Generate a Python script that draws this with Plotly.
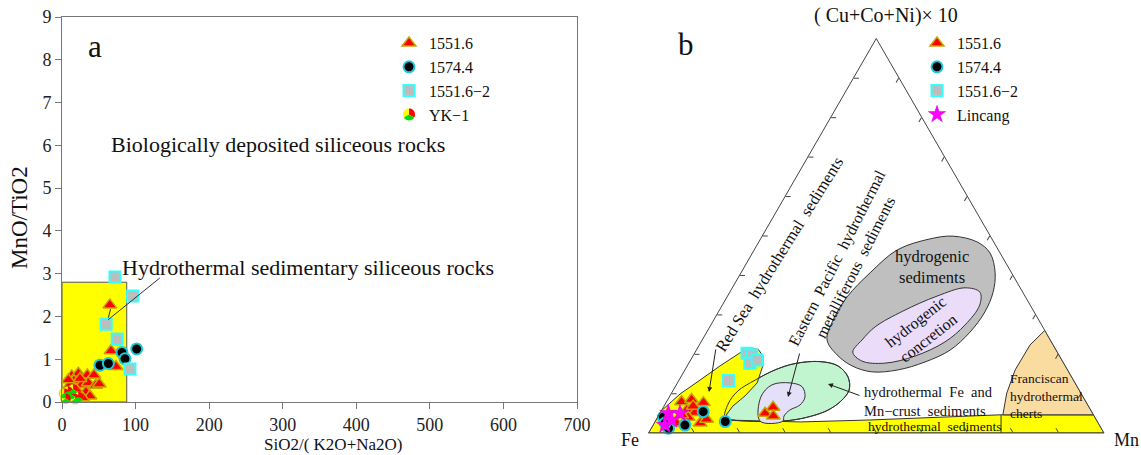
import math
import plotly.graph_objects as go

FONT = "Liberation Serif"
W, H = 1141, 455

# ---------------- Panel a data: SiO2/(K2O+Na2O) vs MnO/TiO2 ----------------
tri_x = [65, 66.6, 73.4, 13.2, 22.2, 34.4, 43.5, 16.3, 26.7, 35.7, 45.7, 10.9, 19.9, 32.6, 38, 50.7, 24.5, 8.6, 14, 28]
tri_y = [2.27, 1.20, 0.83, 0.61, 0.67, 0.63, 0.63, 0.50, 0.41, 0.45, 0.39, 0.40, 0.28, 0.24, 0.14, 0.42, 0.55, 0.52, 0.15, 0.10]
cir_x = [51.6, 63, 81.5, 85.6, 101.5]
cir_y = [0.86, 0.90, 1.16, 1.01, 1.24]
sq_x = [72, 96, 60, 75, 92.4]
sq_y = [2.92, 2.48, 1.82, 1.47, 0.77]
yk_x = [3, 8, 12, 5, 18, 22, 15]
yk_y = [0.20, 0.25, 0.18, 0.08, 0.07, 0.12, 0.30]
x_ticks = [0, 100, 200, 300, 400, 500, 600, 700]
y_ticks = [0, 1, 2, 3, 4, 5, 6, 7, 8, 9]
hydro_box_x = [0, 88]
hydro_box_y = [0, 2.8]

# ---------------- Panel b data: ternary (Cu+Co+Ni)x10 - Fe - Mn (%) ----------------
t_a = [7.9, 8.5, 7.7, 5.8, 5.2, 4.0, 2.5, 3.5, 2.5, 4.6, 6.8, 5.0, 6.5, 4.3]
t_b = [88.8, 86.3, 84.1, 88.7, 87.2, 89.3, 87.4, 85.5, 92.6, 90.4, 86.8, 71.9, 69.4, 70.45]
t_c = [3.3, 5.2, 8.2, 5.5, 7.6, 6.7, 10.1, 11.0, 4.9, 5.0, 6.4, 23.1, 24.1, 25.25]
c_a = [4.0, 1.2, 2.0, 5.4, 2.9, 2.5]
c_b = [94.74, 95.0, 91.0, 85.3, 81.7, 95.1]
c_c = [1.26, 3.8, 7.0, 9.3, 15.4, 2.4]
s_a = [20.2, 19.8, 17.7, 18.5, 13.3]
s_b = [68.3, 67.4, 68.9, 66.9, 75.8]
s_c = [11.5, 12.8, 13.4, 14.6, 10.9]
l_a = [5.0, 5.0, 2.0, 3.3]
l_b = [93.15, 90.6, 95.4, 93.3]
l_c = [1.85, 4.4, 2.6, 3.4]

# field outlines (a, b, c)
yel_a = [0, 5.6, 9.9, 13.4, 17.0, 20.3, 21.4, 21.2, 19.5, 17.0, 12.7, 9.4, 6.8, 4.8, 3.3, 2.8, 3.3, 4.6, 4.6, 0, 0]
yel_b = [100, 94.4, 88.1, 82.0, 75.8, 69.8, 67.0, 65.3, 65.1, 66.4, 69.8, 74.1, 78.1, 80.4, 81.55, 65.3, 49.72, 20.5, 0, 0, 100]
yel_c = [0, 0, 2.0, 4.6, 7.2, 9.9, 11.6, 13.5, 15.4, 16.6, 17.5, 16.5, 15.1, 14.8, 15.15, 31.9, 46.98, 74.9, 95.4, 100, 0]
grn_a = [3.8, 7.35, 10.65, 13.4, 16.0, 17.6, 18.1, 17.0, 14.2, 10.9, 8.1, 5.8, 4.3, 3.2, 2.9, 3.2, 3.8]
grn_b = [81.3, 78.85, 75.05, 69.9, 64.2, 59.05, 53.3, 49.9, 49.1, 50.5, 53.7, 57.7, 62.0, 67.3, 74.1, 79.4, 81.3]
grn_c = [14.9, 13.8, 14.3, 16.7, 19.8, 23.35, 28.6, 33.1, 36.7, 38.6, 38.2, 36.5, 33.7, 29.5, 23.0, 17.4, 14.9]
lav_a = [3.0, 9.1, 12.2, 12.7, 11.7, 9.1, 7.1, 5.8, 4.3, 3.0, 3.0]
lav_b = [74.0, 70.8, 66.8, 62.6, 60.4, 61.1, 63.2, 66.1, 68.1, 69.0, 74.0]
lav_c = [23.0, 20.1, 21.0, 24.7, 27.9, 29.8, 29.7, 28.1, 27.6, 28.0, 23.0]
gry_a = [23.6, 28.6, 34.5, 40.6, 46.4, 49.2, 49.9, 48.4, 45.6, 40.6, 35.7, 30.7, 25.6, 21.0, 18.0, 16.0, 15.5, 17.0, 19.8, 23.6]
gry_b = [49.0, 45.2, 39.15, 31.05, 22.2, 13.6, 8.2, 3.6, 2.2, 3.6, 6.5, 10.8, 16.6, 23.3, 30.3, 37.2, 43.2, 46.8, 48.7, 49.0]
gry_c = [27.4, 26.2, 26.35, 28.35, 31.4, 37.2, 41.9, 48.0, 52.2, 55.8, 57.8, 58.5, 57.8, 55.7, 51.7, 46.8, 41.3, 36.2, 31.5, 27.4]
con_a = [20.5, 23.6, 26.9, 30.9, 34.7, 36.8, 35.7, 32.4, 27.4, 23.1, 19.5, 17.7, 18.25, 20.5]
con_b = [44.9, 41.3, 36.8, 28.7, 19.3, 12.1, 9.4, 11.1, 16.8, 23.35, 31.75, 39.25, 44.05, 44.9]
con_c = [34.6, 35.1, 36.3, 40.4, 46.0, 51.1, 54.9, 56.5, 55.8, 53.55, 48.75, 43.05, 37.7, 34.6]
fra_a = [26.0, 22.3, 16.0, 10.1, 4.6, 4.6, 26.0]
fra_b = [0, 5.1, 11.5, 16.3, 19.9, 0, 0]
fra_c = [74.0, 72.6, 72.5, 73.6, 75.5, 95.4, 74.0]
sep_a = [4.6, 0]
sep_b = [20.3, 22.6]
sep_c = [75.1, 77.4]

# ---------------- styles ----------------
TRI = dict(symbol="triangle-up", size=12, color="#ff0000", line=dict(color="#c9a400", width=1.5))
CIR = dict(symbol="circle", size=11, color="#000000", line=dict(color="#22c8d8", width=2))
SQR = dict(symbol="square", size=11, color="#bdbdbd", line=dict(color="#33ffff", width=2))
STR = dict(symbol="star", size=13, color="#ff00ff", line=dict(color="#cc00cc", width=0.5))
YKM = dict(symbol="circle", size=10, color="#ffff00", line=dict(color="#999900", width=0.5))
LEG_FS = 16


def PX(x):
    """screen pixel x -> paper fraction"""
    return x / W


def PY(y):
    """screen pixel y -> paper fraction"""
    return 1 - y / H


fig = go.Figure()

# ---- panel a traces ----
fig.add_trace(go.Scatter(x=tri_x, y=tri_y, mode="markers", marker=TRI, name="1551.6",
                         legend="legend", cliponaxis=False))
fig.add_trace(go.Scatter(x=cir_x, y=cir_y, mode="markers", marker=CIR, name="1574.4",
                         legend="legend", cliponaxis=False))
fig.add_trace(go.Scatter(x=sq_x, y=sq_y, mode="markers", marker=SQR, name="1551.6\u22122",
                         legend="legend", cliponaxis=False))
fig.add_trace(go.Scatter(x=yk_x, y=yk_y, mode="markers", marker=YKM, name="YK\u22121",
                         legend="legend", cliponaxis=False, showlegend=False))
# legend entry for YK-1: symbol drawn as a pie shape underneath a transparent legend marker
fig.add_trace(go.Scatter(x=[None], y=[None], mode="markers", name="YK\u22121", legend="legend",
                         marker=dict(symbol="circle", size=10, color="rgba(0,0,0,0)",
                                     line=dict(width=0))))


def wedge_path(a0, a1, r, n=10):
    pts = ["M 0 0"]
    for i in range(n + 1):
        ang = math.radians(a0 + (a1 - a0) * i / n)
        pts.append("L %.2f %.2f" % (r * math.cos(ang), r * math.sin(ang)))
    pts.append("Z")
    return " ".join(pts)


shapes = []
shapes.append(dict(type="rect", xref="x", yref="y", x0=hydro_box_x[0], x1=hydro_box_x[1],
                   y0=hydro_box_y[0], y1=hydro_box_y[1], fillcolor="#ffff00",
                   line=dict(color="#555555", width=1), layer="below"))
shapes.append(dict(type="line", xref="x", yref="y", x0=62.5, y0=1.92, x1=133, y1=2.9,
                   line=dict(color="#333333", width=1)))
shapes.append(dict(type="line", xref="x", yref="y", x0=66, y0=2.17, x1=63, y1=1.97,
                   line=dict(color="#333333", width=1)))

for xv, yv in zip(yk_x, yk_y):
    shapes.append(dict(type="path", xref="x", yref="y", xsizemode="pixel", ysizemode="pixel",
                       xanchor=xv, yanchor=yv, path=wedge_path(-30, 90, 5),
                       fillcolor="#ff0000", line=dict(width=0)))
    shapes.append(dict(type="path", xref="x", yref="y", xsizemode="pixel", ysizemode="pixel",
                       xanchor=xv, yanchor=yv, path=wedge_path(210, 330, 5),
                       fillcolor="#00dd00", line=dict(width=0)))

# ---- panel b traces ----
def tern(a, b, c, **kw):
    fig.add_trace(go.Scatterternary(a=a, b=b, c=c, subplot="ternary", **kw))


fill_kw = dict(mode="lines", fill="toself", showlegend=False, hoverinfo="skip")
tern(grn_a, grn_b, grn_c, fillcolor="#c0f5d0", line=dict(color="#333", width=1, shape="spline"), **fill_kw)
tern(yel_a, yel_b, yel_c, fillcolor="#ffff00", line=dict(color="#333", width=1), **fill_kw)
tern(grn_a, grn_b, grn_c, mode="lines", line=dict(color="#333", width=1, shape="spline"),
     showlegend=False, hoverinfo="skip")
tern(lav_a, lav_b, lav_c, fillcolor="#e4e0fa", line=dict(color="#333", width=1, shape="spline"), **fill_kw)
tern(gry_a, gry_b, gry_c, fillcolor="#bfbfbf", line=dict(color="#333", width=1, shape="spline"), **fill_kw)
tern(con_a, con_b, con_c, fillcolor="#ebdcfa", line=dict(color="#333", width=1, shape="spline"), **fill_kw)
tern(fra_a, fra_b, fra_c, fillcolor="#fbdca0", line=dict(color="#333", width=1), **fill_kw)
tern(sep_a, sep_b, sep_c, mode="lines", line=dict(color="#333", width=1), showlegend=False, hoverinfo="skip")

tern(t_a, t_b, t_c, mode="markers", marker=TRI, name="1551.6", legend="legend2", cliponaxis=False)
tern(c_a, c_b, c_c, mode="markers", marker=CIR, name="1574.4", legend="legend2", cliponaxis=False)
tern(s_a, s_b, s_c, mode="markers", marker=SQR, name="1551.6\u22122", legend="legend2", cliponaxis=False)
tern(l_a, l_b, l_c, mode="markers", marker=STR, name="Lincang", legend="legend2", cliponaxis=False)

# legend geometry (plotly vertical legend: item height = 1.3*font + 3, first centre 5px + h/2 below top)
item_h = LEG_FS * 1.3 + 3
leg_top = 43 - 5 - item_h / 2
leg_left_a = 389
leg_left_b = 917

# legend pie for YK-1 (4th entry of panel a legend)
leg_pie_x, leg_pie_y = PX(leg_left_a + 20), PY(leg_top + 5 + item_h / 2 + 3 * item_h)
for a0, a1, col in [(90, 210, "#ffff00"), (-30, 90, "#ff0000"), (210, 330, "#00dd00")]:
    shapes.append(dict(type="path", xref="paper", yref="paper", xsizemode="pixel", ysizemode="pixel",
                       xanchor=leg_pie_x, yanchor=leg_pie_y, path=wedge_path(a0, a1, 6),
                       fillcolor=col, line=dict(width=0)))

tax = dict(showgrid=False, showticklabels=False, ticks="inside", ticklen=5, tickcolor="#444",
           linecolor="#444", linewidth=1, dtick=10, title=dict(text=""))

ann = []
def A(text, x, y, size, **kw):
    d = dict(text=text, x=x, y=y, xref="paper", yref="paper", showarrow=False,
             font=dict(family=FONT, size=size, color="#111"), xanchor="center", yanchor="middle")
    d.update(kw)
    ann.append(d)

# panel a texts
A("a", 45, 8.3, 31, xref="x", yref="y")
A("Biologically deposited siliceous rocks", 293, 6.02, 22, xref="x", yref="y")
A("Hydrothermal sedimentary siliceous rocks", 334, 3.14, 22, xref="x", yref="y")
A("MnO/TiO2", PX(19), PY(218), 23, textangle=-90)
A("SiO2/( K2O+Na2O)", PX(333), PY(444.5), 17)

# panel b texts
A("b", PX(686), PY(45), 31)
A("( Cu+Co+Ni)\u00d7 10", PX(886), PY(16), 20)
A("Fe", PX(630), PY(440), 18)
A("Mn", PX(1126), PY(440), 18)
A("Red Sea  hydrothermal  sediments", PX(779), PY(254), 16.5, textangle=-58)
A("Eastern  Pacific  hydrothermal<br>metalliferous  sediments", PX(846), PY(263), 16, textangle=-63)
A("hydrogenic<br>sediments", PX(932), PY(267), 16.5)
A("hydrogenic<br>concretion", PX(922), PY(330), 16, textangle=-38)
A("hydrothermal  Fe  and<br>Mn\u2212crust  sediments", PX(862), PY(401), 14.5, xanchor="left", align="left")
A("hydrothermal  sediments", PX(934), PY(426), 13.5)
A("Franciscan<br>hydrothermal<br>cherts", PX(1008), PY(396), 13.5, xanchor="left", align="left")

for (hx, hy, tx, ty) in [(709, 392, 716, 348), (788, 397, 800, 352), (828, 384, 861, 396)]:
    ann.append(dict(x=PX(hx), y=PY(hy), xref="paper", yref="paper", text="", showarrow=True,
                    ax=tx - hx, ay=ty - hy, arrowhead=2, arrowsize=1, arrowwidth=1, arrowcolor="#222"))

axis_font = dict(family=FONT, size=18, color="#222")
common_ax = dict(ticks="outside", ticklen=6, tickcolor="#777", showline=True, mirror=True,
                 linecolor="#777", linewidth=1, showgrid=False, zeroline=False, tickfont=axis_font,
                 automargin=False)
leg_common = dict(xanchor="left", yanchor="top", bgcolor="rgba(0,0,0,0)", borderwidth=0,
                  font=dict(family=FONT, size=LEG_FS, color="#111"), itemsizing="trace")
fig.update_layout(
    width=W, height=H, autosize=False,
    margin=dict(l=0, r=0, t=0, b=0, autoexpand=False),
    paper_bgcolor="white", plot_bgcolor="white",
    font=dict(family=FONT, color="#111"),
    xaxis=dict(domain=[PX(62), PX(577)], range=[0, 700], tickvals=x_ticks, **common_ax),
    yaxis=dict(domain=[PY(402), PY(17)], range=[0, 9], tickvals=y_ticks, **common_ax),
    ternary=dict(domain=dict(x=[PX(648.5), PX(1104)], y=[PY(433), PY(38.5)]), sum=100,
                 bgcolor="white", aaxis=tax, baxis=tax, caxis=tax),
    legend=dict(x=PX(leg_left_a), y=PY(leg_top), **leg_common),
    legend2=dict(x=PX(leg_left_b), y=PY(leg_top), **leg_common),
    shapes=shapes,
    annotations=ann,
)

# remove the browser's default 8px page margin so the figure fills the window exactly
fig.write_html("out.html", config={"displayModeBar": False},
               post_script="document.body.style.margin='0';")
